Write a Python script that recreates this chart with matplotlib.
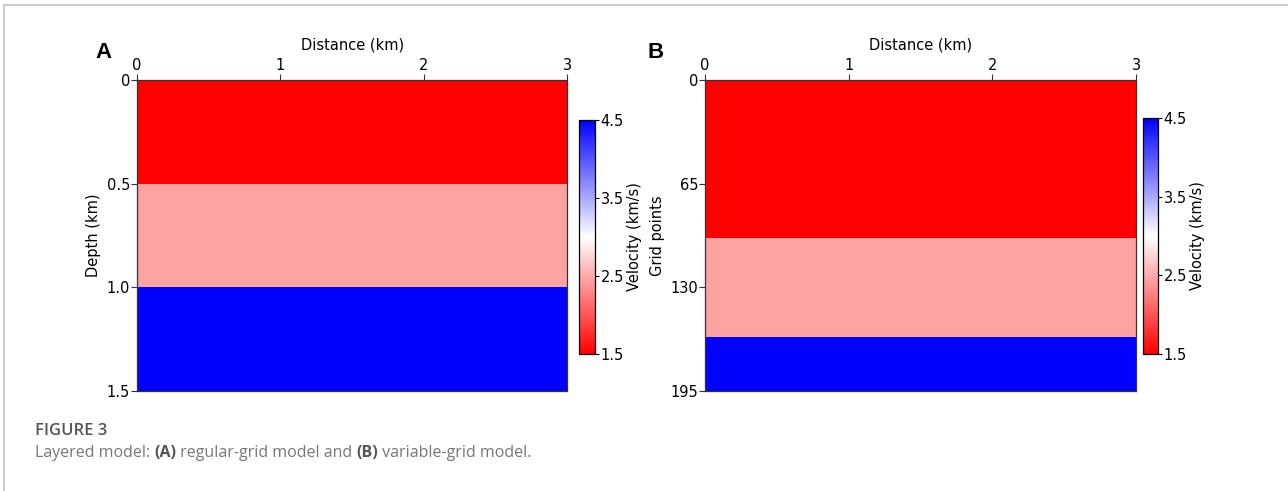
import numpy as np
import matplotlib
matplotlib.use("Agg")
import matplotlib.pyplot as plt
from matplotlib.colors import LinearSegmentedColormap
from matplotlib.lines import Line2D

plt.rcParams["font.family"] = ["DejaVu Sans"]

# layered model values
velocities = [1.5, 2.45, 4.5]             # km/s, top to bottom
depth_edges = [0.0, 0.5, 1.0, 1.5]        # km, regular grid (A)
grid_edges = [0, 99, 161, 195]            # grid points, variable grid (B)
x_edges = [0.0, 3.0]                      # km
x_ticks = [0, 1, 2, 3]
depth_ticks = [0, 0.5, 1.0, 1.5]
depth_ticklabels = ["0", "0.5", "1.0", "1.5"]
grid_ticks = [0, 65, 130, 195]
cbar_ticks = [1.5, 2.5, 3.5, 4.5]
vmin, vmax = 1.5, 4.5

cmap = LinearSegmentedColormap.from_list("rwb", ["#ff0000", "#ffffff", "#0000ff"])

fig = plt.figure(figsize=(12.88, 4.91), dpi=100)

# page frame (top and left border lines)
fig.add_artist(Line2D([0.003, 1.0], [0.990, 0.990], transform=fig.transFigure, color="#cccccc", lw=1.5))
fig.add_artist(Line2D([0.003, 0.003], [0.0, 0.990], transform=fig.transFigure, color="#cccccc", lw=1.5))

panels = [
    dict(ax=[0.1064, 0.2037, 0.3339, 0.6334], cax=[0.4495, 0.279, 0.0124, 0.4766],
         edges=depth_edges, yticks=depth_ticks, ylabels=depth_ticklabels,
         ylabel="Depth (km)", letter="A", lx=0.074),
    dict(ax=[0.5474, 0.2037, 0.3346, 0.6334], cax=[0.8874, 0.279, 0.0117, 0.4807],
         edges=grid_edges, yticks=grid_ticks, ylabels=[str(t) for t in grid_ticks],
         ylabel="Grid points", letter="B", lx=0.503),
]

for p in panels:
    ax = fig.add_axes(p["ax"])
    vel = np.array(velocities).reshape(-1, 1)
    mesh = ax.pcolormesh(x_edges, p["edges"], vel, cmap=cmap, vmin=vmin, vmax=vmax)
    ax.set_xlim(x_edges[0], x_edges[-1])
    ax.set_ylim(p["edges"][-1], p["edges"][0])
    ax.xaxis.tick_top()
    ax.xaxis.set_label_position("top")
    ax.set_xticks(x_ticks)
    ax.set_yticks(p["yticks"])
    ax.set_yticklabels(p["ylabels"])
    ax.tick_params(length=4, width=0.8, color="#333333", labelsize=10.5, pad=1)
    ax.set_xlabel("Distance (km)", fontsize=10.5, labelpad=6)
    ax.set_ylabel(p["ylabel"], fontsize=10.5, labelpad=4)
    for s in ax.spines.values():
        s.set_linewidth(0.9)
        s.set_color("#333333")
    fig.text(p["lx"], 0.893, p["letter"], fontsize=16, fontweight="bold",
             family=["Liberation Sans", "DejaVu Sans"], ha="left", va="center")

    cax = fig.add_axes(p["cax"])
    cb = fig.colorbar(mesh, cax=cax, ticks=cbar_ticks)
    cb.outline.set_linewidth(0.9)
    cb.ax.tick_params(length=3, width=0.8, labelsize=10.5, pad=1)
    cb.set_label("Velocity (km/s)", fontsize=10.5, labelpad=2)

# caption
fig.text(0.027, 0.122, "FIGURE 3", fontsize=12, color="#555555", fontweight="semibold",
         family=["Open Sans", "DejaVu Sans"], ha="left", va="center")
cap_parts = [("Layered model: ", "normal"), ("(A)", "bold"), (" regular-grid model and ", "normal"),
             ("(B)", "bold"), (" variable-grid model.", "normal")]
fig.canvas.draw()
renderer = fig.canvas.get_renderer()
xpos = 0.027
for s, w in cap_parts:
    t = fig.text(xpos, 0.077, s, fontsize=11.5, color="#777777" if w == "normal" else "#555555",
                 fontweight=w, family=["Open Sans", "DejaVu Sans"], ha="left", va="center")
    bb = t.get_window_extent(renderer)
    xpos += bb.width / fig.bbox.width

fig.savefig("out.png", dpi=100)
